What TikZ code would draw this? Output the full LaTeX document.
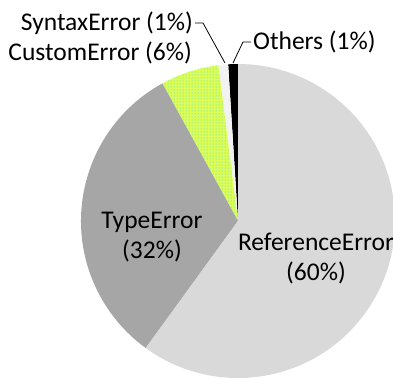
\documentclass[tikz,border=0pt]{standalone}
\usepackage{fontspec}
\setmainfont{Carlito}
\usetikzlibrary{patterns}

\definecolor{refgray}{HTML}{D9D9D9}
\definecolor{typegray}{HTML}{A6A6A6}
\definecolor{custgreen}{HTML}{DDFF55}
\definecolor{custdot}{HTML}{33CCEE}
\definecolor{syngray}{HTML}{F2F2F2}

\tikzset{
    slicelabel/.style={font=\fontsize{25.5}{30}\selectfont, inner sep=2pt, align=center},
    leader/.style={draw=black, line width=0.8pt}
}

\begin{document}
\begin{tikzpicture}[x=1pt, y=1pt]
    \useasboundingbox (0,0) rectangle (393,378);
    \coordinate (c) at (238,157);

    % slices, counterclockwise from the top
    \foreach \a/\b/\col in {90/93.6/black, 93.6/97.2/syngray, 97.2/118.8/custgreen,
                            118.8/234/typegray, 234/450/refgray}
        \fill[\col] (c) -- ++(\a:157pt) arc (\a:\b:157pt) -- cycle;
    \fill[pattern=dots, pattern color=custdot] (c) -- ++(97.2:157pt) arc (97.2:118.8:157pt) -- cycle;

    % labels
    \node[slicelabel] (ref) at (316,119) {ReferenceError\\(60\%)};
    \node[slicelabel] (type) at (152,141) {TypeError\\(32\%)};
    \node[slicelabel, anchor=east] (cust) at (194,325) {CustomError (6\%)};
    \node[slicelabel, anchor=east] (syn) at (195,355) {SyntaxError (1\%)};
    \node[slicelabel, anchor=west] (oth) at (251,336) {Others (1\%)};

    % leader lines
    \coordinate (syntip) at (225,315);
    \coordinate (othtip) at (233,315);
    \draw[leader] (syn.east) -- ++(8,0) -- (syntip);
    \draw[leader] (oth.west) -- ++(-8,0) -- (othtip);
\end{tikzpicture}
\end{document}
